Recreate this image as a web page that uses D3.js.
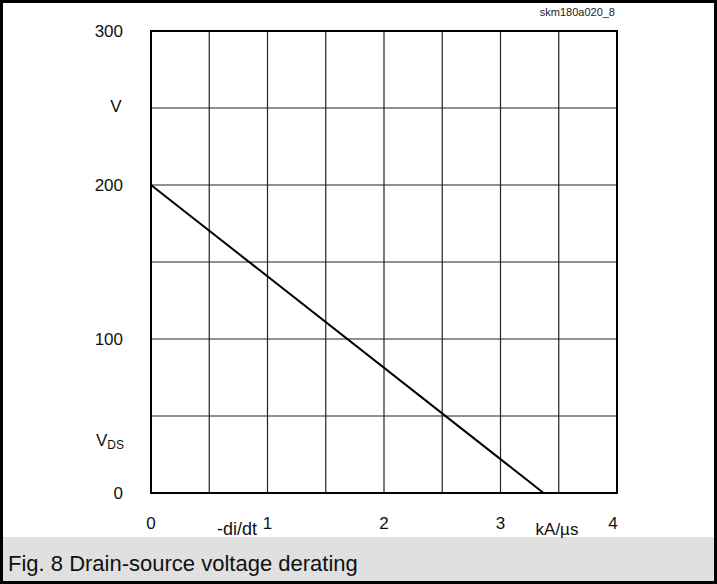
<!DOCTYPE html>
<html><head><meta charset="utf-8">
<script src="https://cdn.jsdelivr.net/npm/d3@7"></script>
<style>body{margin:0;background:#fff;}svg{display:block;font-family:"Liberation Sans",Arial,sans-serif;}</style>
</head><body><svg id="c" width="717" height="584"></svg>
<script>
const xDomain = [0, 4];
const yDomain = [0, 300];
const xGrid = [0, 0.5, 1, 1.5, 2, 2.5, 3, 3.5, 4];
const yGrid = [0, 50, 100, 150, 200, 250, 300];
const xTickLabels = [{v:0,t:"0"},{v:1,t:"1"},{v:2,t:"2"},{v:3,t:"3"},{v:4,t:"4"}];
const yTickLabels = [{v:0,t:"0"},{v:100,t:"100"},{v:200,t:"200"},{v:300,t:"300"}];
const curveX = [0, 3.37];
const curveY = [200, 0];

const svg = d3.select("#c");
const L=151, R=617, T=31, B=493;
const x = d3.scaleLinear().domain(xDomain).range([L,R]);
const y = d3.scaleLinear().domain(yDomain).range([B,T]);

// outer frame
svg.append("rect").attr("x",1.5).attr("y",1.5).attr("width",714).attr("height",581)
  .attr("fill","#fff").attr("stroke","#000").attr("stroke-width",3);
// caption box
svg.append("rect").attr("x",3).attr("y",537).attr("width",711).attr("height",44).attr("fill","#e0e0e0");
svg.append("text").attr("x",8).attr("y",571).attr("font-size",22).attr("fill","#111")
  .text("Fig. 8 Drain-source voltage derating");

// grid
const g = svg.append("g");
g.selectAll(".vx").data(xGrid).join("line").attr("x1",d=>x(d)).attr("x2",d=>x(d))
  .attr("y1",T).attr("y2",B).attr("stroke","#222").attr("stroke-width",1.2);
g.selectAll(".hy").data(yGrid).join("line").attr("y1",d=>y(d)).attr("y2",d=>y(d))
  .attr("x1",L).attr("x2",R).attr("stroke","#222").attr("stroke-width",1.2);
g.append("rect").attr("x",L).attr("y",T).attr("width",R-L).attr("height",B-T)
  .attr("fill","none").attr("stroke","#000").attr("stroke-width",2);

// curve
const line = d3.line().x(d=>x(d[0])).y(d=>y(d[1]));
g.append("path").datum(curveX.map((v,i)=>[v,curveY[i]])).attr("d",line)
  .attr("fill","none").attr("stroke","#000").attr("stroke-width",2);

// y labels
svg.selectAll(".yl").data(yTickLabels).join("text").attr("x",123).attr("y",d=>y(d.v)+6)
  .attr("text-anchor","end").attr("font-size",17).attr("fill","#111").text(d=>d.t);
svg.append("text").attr("x",116).attr("y",112).attr("text-anchor","middle").attr("font-size",17).attr("fill","#111").text("V");
const vds = svg.append("text").attr("x",110).attr("y",446).attr("text-anchor","middle").attr("font-size",17).attr("fill","#111");
vds.append("tspan").text("V");
vds.append("tspan").attr("font-size",12).attr("dy",3).text("DS");

// x labels
svg.selectAll(".xl").data(xTickLabels).join("text").attr("x",d=>x(d.v)-(d.v===4?4:0)).attr("y",529)
  .attr("text-anchor","middle").attr("font-size",17).attr("fill","#111").text(d=>d.t);
svg.append("text").attr("x",237).attr("y",535).attr("text-anchor","middle").attr("font-size",18).attr("fill","#111").text("-di/dt");
svg.append("text").attr("x",557).attr("y",535).attr("text-anchor","middle").attr("font-size",17).attr("fill","#111").text("kA/µs");
svg.append("text").attr("x",615).attr("y",16).attr("text-anchor","end").attr("font-size",11).attr("fill","#222").text("skm180a020_8");
</script></body></html>
